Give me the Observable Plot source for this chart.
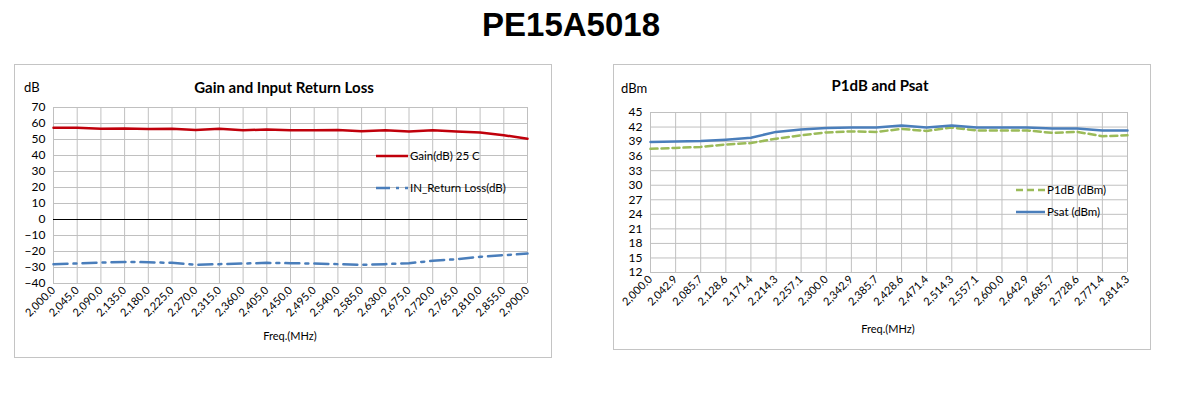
<!DOCTYPE html>
<html><head><meta charset="utf-8">
<script src="https://cdn.jsdelivr.net/npm/d3@7"></script>
<script src="https://cdn.jsdelivr.net/npm/@observablehq/plot@0.6"></script>
<style>
body{margin:0;background:#fff;width:1189px;height:398px;position:relative;overflow:hidden;font-family:Lato,"Open Sans",sans-serif;color:#000;}
.abs{position:absolute;white-space:nowrap;line-height:1;}
.c{transform:translate(-50%,-50%);}
.l{transform:translate(0,-50%);}
.box{position:absolute;border:1px solid #c4c4c4;box-sizing:border-box;pointer-events:none;}
.holder{position:absolute;}
.ttl{font-weight:bold;font-size:15px;}
.unit{font-size:13px;}
.leg{font-size:11.5px;}
.axl{font-size:11px;}
</style>
</head><body>
<div class="abs c" id="main" style="left:571px;top:25px;font:bold 33px 'Liberation Sans',Arial,sans-serif;">PE15A5018</div>

<div class="holder" id="chartL" style="left:14px;top:64px;"></div>
<div class="box" style="left:14px;top:64px;width:538px;height:294px;"></div>
<div class="abs c ttl" style="left:284px;top:87px;">Gain and Input Return Loss</div>
<div class="abs l unit" style="left:24px;top:87px;">dB</div>
<div class="abs c axl" style="left:290px;top:335px;">Freq.(MHz)</div>
<svg class="abs" style="left:376px;top:154px" width="32" height="4"><line x1="0" x2="32" y1="2" y2="2" stroke="#c0000b" stroke-width="2.5"/></svg>
<div class="abs l leg" style="left:410px;top:156px;">Gain(dB) 25 C</div>
<svg class="abs" style="left:376px;top:186px" width="32" height="4"><line x1="0" x2="32" y1="2" y2="2" stroke="#4a7ebb" stroke-width="2.5" stroke-dasharray="14,6,3,6"/></svg>
<div class="abs l leg" style="left:410px;top:188px;">IN_Return Loss(dB)</div>

<div class="holder" id="chartR" style="left:613px;top:64px;"></div>
<div class="box" style="left:613px;top:64px;width:538px;height:286px;"></div>
<div class="abs c ttl" style="left:880px;top:85px;">P1dB and Psat</div>
<div class="abs l unit" style="left:621px;top:88px;">dBm</div>
<div class="abs c axl" style="left:888px;top:328px;">Freq.(MHz)</div>
<svg class="abs" style="left:1016px;top:188px" width="29" height="4"><line x1="0" x2="29" y1="2" y2="2" stroke="#9bbb59" stroke-width="2.5" stroke-dasharray="7,4"/></svg>
<div class="abs l leg" style="left:1047px;top:190px;">P1dB (dBm)</div>
<svg class="abs" style="left:1016px;top:210px" width="29" height="4"><line x1="0" x2="29" y1="2" y2="2" stroke="#4a7ebb" stroke-width="2.5"/></svg>
<div class="abs l leg" style="left:1047px;top:212px;">Psat (dBm)</div>

<script>
// ---- Data ----
const freqGain = [2000, 2045, 2090, 2135, 2180, 2225, 2270, 2315, 2360, 2405, 2450, 2495, 2540, 2585, 2630, 2675, 2720, 2765, 2810, 2855, 2900];
const gain = [57.3, 57.3, 56.7, 56.9, 56.5, 56.7, 56.0, 56.7, 55.8, 56.2, 55.8, 55.8, 56.0, 55.2, 55.8, 55.0, 55.8, 55.0, 54.4, 52.7, 50.4];
const returnLoss = [-27.9, -27.5, -26.9, -26.5, -26.7, -27.1, -28.3, -27.9, -27.5, -27.1, -27.3, -27.5, -27.9, -28.3, -27.9, -27.3, -25.8, -24.8, -23.3, -22.3, -21.3];
const yTicksGain = [-40, -30, -20, -10, 0, 10, 20, 30, 40, 50, 60, 70];

const freqPower = [2000.0, 2042.9, 2085.7, 2128.6, 2171.4, 2214.3, 2257.1, 2300.0, 2342.9, 2385.7, 2428.6, 2471.4, 2514.3, 2557.1, 2600.0, 2642.9, 2685.7, 2728.6, 2771.4, 2814.3];
const p1db = [37.5, 37.7, 37.9, 38.4, 38.7, 39.6, 40.3, 40.9, 41.1, 41.0, 41.6, 41.2, 41.9, 41.3, 41.3, 41.3, 40.8, 41.0, 40.1, 40.3];
const psat = [38.9, 39.0, 39.1, 39.4, 39.8, 41.0, 41.5, 41.8, 41.9, 41.9, 42.3, 41.9, 42.3, 41.9, 41.9, 41.9, 41.7, 41.7, 41.3, 41.3];
const yTicksPower = [12, 15, 18, 21, 24, 27, 30, 33, 36, 39, 42, 45];

const fmt = d3.format(",.1f");
const gridColor = "#c0c0c0";
const style = {fontFamily: "Lato, 'Open Sans', sans-serif", fontSize: "12px", color: "#000", background: "transparent", overflow: "visible"};

const gainRows = freqGain.map((f, i) => ({f, v: gain[i]}));
const rlRows = freqGain.map((f, i) => ({f, v: returnLoss[i]}));

const left = Plot.plot({
  width: 538, height: 294,
  marginLeft: 39, marginRight: 25, marginTop: 43, marginBottom: 75,
  style,
  x: {type: "linear", domain: [freqGain[0], freqGain[freqGain.length - 1]]},
  y: {domain: [yTicksGain[0], yTicksGain[yTicksGain.length - 1]]},
  marks: [
    Plot.gridX(freqGain, {stroke: gridColor, strokeOpacity: 1}),
    Plot.gridY(yTicksGain, {stroke: gridColor, strokeOpacity: 1}),
    Plot.ruleY([0], {stroke: "#000", strokeWidth: 1}),
    Plot.axisY(yTicksGain, {tickSize: 0, tickPadding: 8, fontSize: 12, label: null}),
    Plot.axisX(freqGain, {tickSize: 0, tickPadding: 5, tickRotate: -45, tickFormat: fmt, fontSize: 11, label: null}),
    Plot.line(rlRows, {x: "f", y: "v", stroke: "#4a7ebb", strokeWidth: 2.5, strokeDasharray: "14,6,3,6"}),
    Plot.line(gainRows, {x: "f", y: "v", stroke: "#c0000b", strokeWidth: 2.5})
  ]
});
document.getElementById("chartL").appendChild(left);

const p1Rows = freqPower.map((f, i) => ({f, v: p1db[i]}));
const psRows = freqPower.map((f, i) => ({f, v: psat[i]}));

const right = Plot.plot({
  width: 538, height: 286,
  marginLeft: 37, marginRight: 24, marginTop: 48, marginBottom: 78,
  style,
  x: {type: "linear", domain: [freqPower[0], freqPower[freqPower.length - 1]]},
  y: {domain: [yTicksPower[0], yTicksPower[yTicksPower.length - 1]]},
  marks: [
    Plot.gridX(freqPower, {stroke: gridColor, strokeOpacity: 1}),
    Plot.gridY(yTicksPower, {stroke: gridColor, strokeOpacity: 1}),
    Plot.axisY(yTicksPower, {tickSize: 0, tickPadding: 8, fontSize: 12, label: null}),
    Plot.axisX(freqPower, {tickSize: 0, tickPadding: 5, tickRotate: -45, tickFormat: fmt, fontSize: 11, label: null}),
    Plot.line(p1Rows, {x: "f", y: "v", stroke: "#9bbb59", strokeWidth: 2.5, strokeDasharray: "7,4"}),
    Plot.line(psRows, {x: "f", y: "v", stroke: "#4a7ebb", strokeWidth: 2.5})
  ]
});
document.getElementById("chartR").appendChild(right);
</script>
</body></html>
